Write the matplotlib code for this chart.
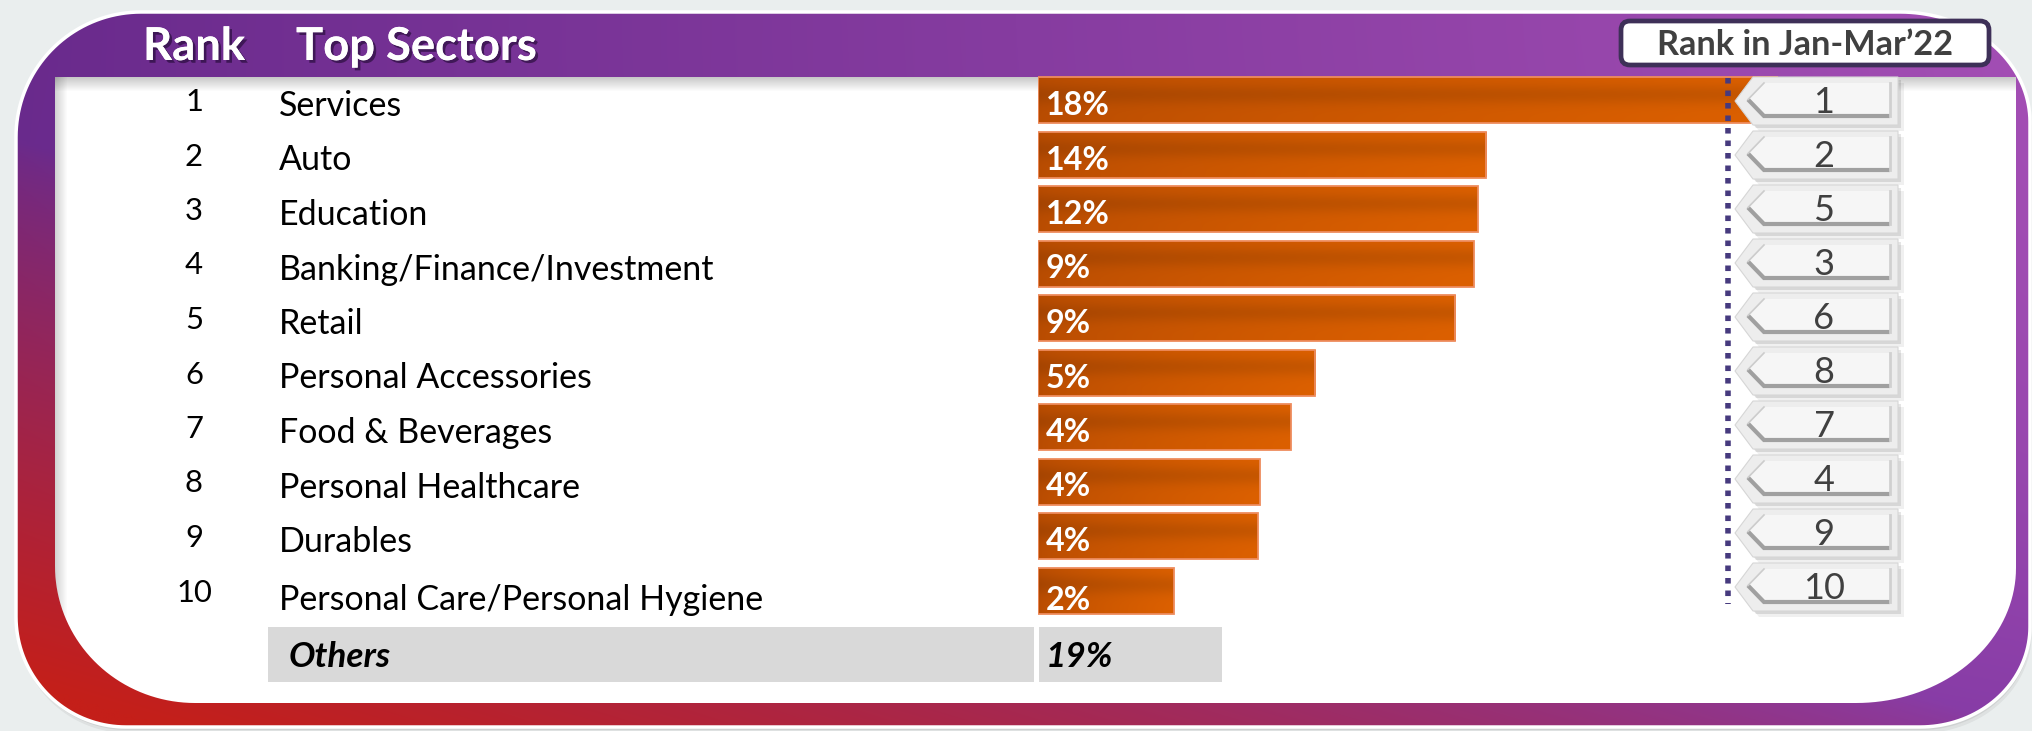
import numpy as np
import matplotlib
matplotlib.use("Agg")
import matplotlib.pyplot as plt
from matplotlib.patches import Polygon, FancyBboxPatch, Rectangle
import matplotlib.patheffects as pe
from matplotlib.colors import to_rgb

# ---------------- data ----------------
ranks = [1, 2, 3, 4, 5, 6, 7, 8, 9, 10]
sectors = ["Services", "Auto", "Education", "Banking/Finance/Investment", "Retail",
           "Personal Accessories", "Food & Beverages", "Personal Healthcare",
           "Durables", "Personal Care/Personal Hygiene"]
share_pct = [18, 14, 12, 9, 9, 5, 4, 4, 4, 2]            # printed labels
bar_length = [18.0, 10.9, 10.7, 10.6, 10.15, 6.74, 6.15, 5.4, 5.35, 3.3]  # bar lengths as drawn
prev_rank = [1, 2, 5, 3, 6, 8, 7, 4, 9, 10]               # Rank in Jan-Mar'22
others_label = "Others"
others_pct = 19
header_rank = "Rank"
header_sectors = "Top Sectors"
prev_title = "Rank in Jan-Mar\u201922"

# ---------------- layout ----------------
W, H = 2032, 731
FONT = "Lato"
plt.rcParams["font.family"] = [FONT, "DejaVu Sans"]

fig = plt.figure(figsize=(W / 100, H / 100), dpi=100)
fig.patch.set_facecolor("#eaeeee")
renderer = fig.canvas.get_renderer()


def fit(text, px, dim="width", **kw):
    t = fig.text(0, 0, text, fontsize=20, **kw)
    bb = t.get_window_extent(renderer)
    t.remove()
    return 20 * px / (bb.width if dim == "width" else bb.height)


def lerp(a, b, t):
    return a + (b - a) * t


def rr(x0, y0, x1, y1, tl, tr, br, bl, n=40):
    def R(r):
        return (r, r) if np.isscalar(r) else r
    t = np.linspace(0, np.pi / 2, n)
    pts = []
    rx, ry = R(tl); cx, cy = x0 + rx, y0 + ry
    pts += list(zip(cx - rx * np.cos(t), cy - ry * np.sin(t)))
    rx, ry = R(tr); cx, cy = x1 - rx, y0 + ry
    pts += list(zip(cx + rx * np.sin(t), cy - ry * np.cos(t)))
    rx, ry = R(br); cx, cy = x1 - rx, y1 - ry
    pts += list(zip(cx + rx * np.cos(t), cy + ry * np.sin(t)))
    rx, ry = R(bl); cx, cy = x0 + rx, y1 - ry
    pts += list(zip(cx - rx * np.sin(t), cy + ry * np.cos(t)))
    return pts


# canvas axes (pixel coordinates, y down)
cv = fig.add_axes([0, 0, 1, 1])
cv.set_xlim(0, W); cv.set_ylim(H, 0); cv.axis("off")

# frame gradient
P_L = np.array(to_rgb("#692a8c")); P_R = np.array(to_rgb("#a34eb4"))
P_B = np.array(to_rgb("#74309d")); RED = np.array(to_rgb("#c41f1a"))
gx, gy = np.meshgrid(np.linspace(0, 1, 400), np.linspace(0, 1, 150))
purple = lerp(P_L, P_R, gx[..., None])
purple = lerp(purple, P_B, (gy ** 2)[..., None] * 0.6)
redness = np.clip(1.35 * gy - 1.1 * gx - 0.25, 0, 1) ** 0.8
frame_col = lerp(purple, RED, redness[..., None])

outer_pts = rr(16, 12, 2030, 727, (125, 125), (130, 110), (110, 100), (110, 110))
outer = Polygon(outer_pts, closed=True, fc="none", ec="none")
cv.add_patch(outer)
# soft outer shadow
for k, a in ((6, 0.05), (3, 0.07)):
    cv.add_patch(Polygon([(x + k * 0.3, y + k) for x, y in outer_pts], closed=True,
                         fc="black", alpha=a, ec="none", zorder=0.5))
im = cv.imshow(frame_col, extent=(0, W, H, 0), aspect="auto", interpolation="bilinear", zorder=1)
im.set_clip_path(outer)
cv.add_patch(Polygon(outer_pts, closed=True, fc="none", ec="white", lw=2.5, zorder=2))

inner_pts = rr(55, 77, 2016, 703, 0, 0, (160, 135), (140, 137))
inner = Polygon(inner_pts, closed=True, fc="white", ec="none", zorder=3)
cv.add_patch(inner)
# inner soft shadows
sh = np.zeros((20, 2, 4)); sh[..., 3] = np.linspace(0.22, 0, 20)[:, None]
s1 = cv.imshow(sh, extent=(55, 2016, 92, 77), aspect="auto", interpolation="bilinear", zorder=4)
s1.set_clip_path(inner)
sh2 = np.zeros((2, 20, 4)); sh2[..., 3] = np.linspace(0.18, 0, 20)[None, :]
s2 = cv.imshow(sh2, extent=(55, 68, H, 77), aspect="auto", interpolation="bilinear", zorder=4)
s2.set_clip_path(inner)
cv.set_xlim(0, W); cv.set_ylim(H, 0)

# header texts
hs = fit(header_sectors, 223, weight="bold") * 1.08
shadow = [pe.withSimplePatchShadow(offset=(2, -2), shadow_rgbFace="#1e0830", alpha=0.6), pe.Normal()]
cv.text(194, 60, header_rank, color="white", fontsize=hs, weight="bold", ha="center",
        va="baseline", path_effects=shadow, zorder=6)
cv.text(296, 60, header_sectors, color="white", fontsize=hs, weight="bold", ha="left",
        va="baseline", path_effects=shadow, zorder=6)

# title box
cv.add_patch(FancyBboxPatch((1621, 21), 368, 44, boxstyle="round,pad=0,rounding_size=9",
                            fc="white", ec="#3e3058", lw=3.4, zorder=6))
ts = fit(prev_title, 295, weight="bold")
cv.text(1805, 55, prev_title, color="#404040", fontsize=ts, weight="bold", ha="center",
        va="baseline", zorder=7)

# rows
n = len(sectors)
pitch = 54.5
centers = [100 + pitch * i for i in range(n)]
text_dy = [16] * (n - 1) + [20]
rs = fit("10", 36)
ss = fit(sectors[3], 436)
for i in range(n):
    cv.text(194, centers[i] + 11, str(ranks[i]), fontsize=rs, ha="center", va="baseline",
            color="black", zorder=6)
    cv.text(279, centers[i] + text_dy[i], sectors[i], fontsize=ss, ha="left", va="baseline",
            color="black", zorder=6)

# others row
cv.add_patch(Rectangle((268, 627), 766, 55, fc="#d9d9d9", ec="none", zorder=5))
cv.add_patch(Rectangle((1039, 627), 183, 55, fc="#d9d9d9", ec="none", zorder=5))
os_ = fit(others_label, 102, weight="bold", style="italic")
cv.text(289, 667, others_label, fontsize=os_, weight="bold", style="italic", ha="left",
        va="baseline", color="black", zorder=6)
cv.text(1046, 667, f"{others_pct}%", fontsize=os_, weight="bold", style="italic", ha="left",
        va="baseline", color="black", zorder=6)

# ---------------- bars ----------------
bx_top = centers[0] - pitch / 2
bx_bot = centers[-1] + pitch / 2
bx = fig.add_axes([1038 / W, 1 - bx_bot / H, 740 / W, (bx_bot - bx_top) / H])
bx.patch.set_alpha(0); bx.axis("off")
bh = 46 / pitch
bars = bx.barh(np.arange(n), bar_length, height=bh, color="#cc5500", edgecolor="none", zorder=1)
gxx = np.linspace(0, 1, 200); gyy = np.linspace(0, 1, 40)
base = lerp(np.array(to_rgb("#b84c02")), np.array(to_rgb("#dc6000")), gxx[None, :, None] ** 0.7)
shade = 1 - 0.10 * np.exp(-((gyy - 0.38) / 0.22) ** 2)
grad = np.clip(base * shade[:, None, None], 0, 1)
for b in bars:
    x0, y0, w, h = b.get_x(), b.get_y(), b.get_width(), b.get_height()
    g = bx.imshow(grad, extent=(x0, x0 + w, y0 + h, y0), aspect="auto",
                  interpolation="bilinear", zorder=2)
    g.set_clip_path(b)
bx.barh(np.arange(n), bar_length, height=bh, fill=False, edgecolor="#ee8c5e", lw=1.3, zorder=3)
bx.set_xlim(0, 18); bx.set_ylim(n - 0.5, -0.5)

# ---------------- overlay ----------------
ov = fig.add_axes([0, 0, 1, 1])
ov.patch.set_alpha(0); ov.axis("off")
ov.set_xlim(0, W); ov.set_ylim(H, 0)

ps = fit("18%", 64, weight="bold")
for i in range(n):
    ov.text(1046, centers[i] + text_dy[i] - 1, f"{share_pct[i]}%", color="white", fontsize=ps,
            weight="bold", ha="left", va="baseline", zorder=5)

ov.plot([1728, 1728], [78, 604], color="#463a7e", lw=4.0, ls=(0, (1, 1.25)),
        dash_capstyle="butt", zorder=4)


def pent(xl, xc, xr, yt, yb):
    return [(xl, (yt + yb) / 2), (xc, yt), (xr, yt), (xr, yb), (xc, yb)]


bs = fit("10", 42)
for i, r in enumerate(prev_rank):
    top = 77 + 54 * i
    bot = top + 48
    mid = (top + bot) / 2
    for k, a in ((6, 0.06), (3, 0.10)):
        ov.add_patch(Polygon(pent(1735 + k, 1753 + k, 1898 + k, top + k, bot + k), closed=True,
                             fc="black", alpha=a, ec="none", zorder=5))
    ov.add_patch(Polygon(pent(1735, 1753, 1898, top, bot), closed=True, fc="#ededed",
                         ec="#d6d6d6", lw=0.8, zorder=6))
    it, ib = top + 6, bot - 9
    ov.add_patch(Polygon(pent(1748, 1764, 1890, it, ib), closed=True, fc="#f6f6f6",
                         ec="none", zorder=7))
    ov.plot([1748, 1764, 1890], [(it + ib) / 2, ib, ib], color="#a0a0a0", lw=3.0,
            solid_capstyle="butt", solid_joinstyle="miter", zorder=8)
    ov.plot([1748, 1764], [(it + ib) / 2, it], color="#cccccc", lw=1.2, zorder=8)
    ov.plot([1890, 1890], [it, ib], color="#d0d0d0", lw=2.0, zorder=8)
    ov.text(1824, mid + 12, str(r), color="#404040", fontsize=bs, ha="center",
            va="baseline", zorder=9)

fig.savefig("out.png", dpi=100, facecolor=fig.get_facecolor())
